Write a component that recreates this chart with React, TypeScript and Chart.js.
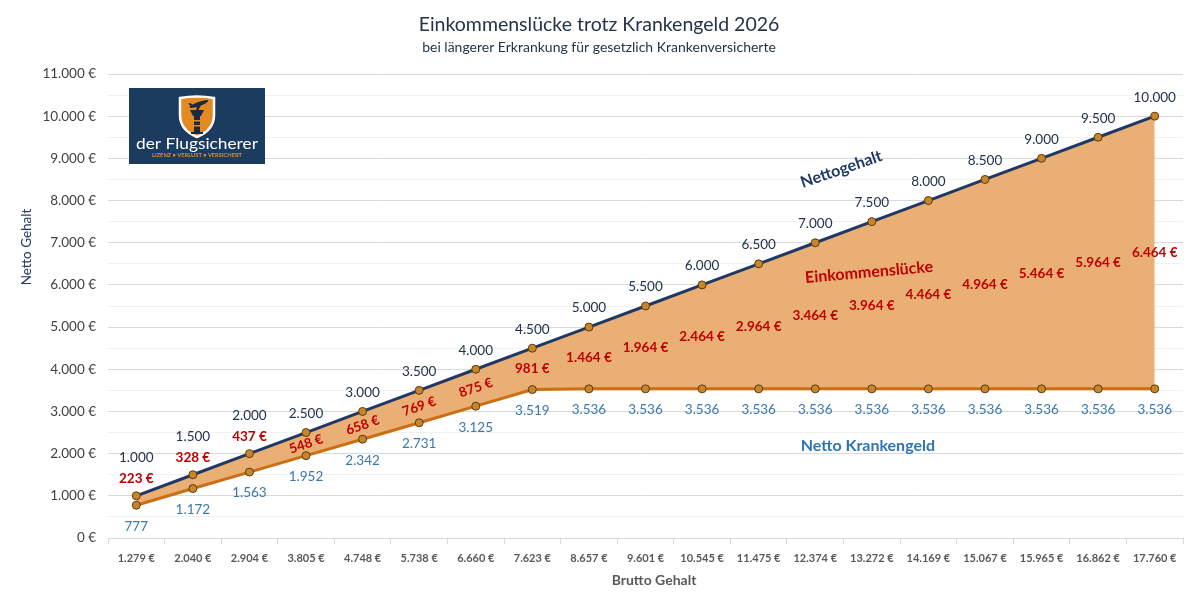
import React, { useEffect, useRef } from "react";
import { Chart, registerables } from "chart.js";

Chart.register(...registerables);

const bruttoLabels = [1279, 2040, 2904, 3805, 4748, 5738, 6660, 7623, 8657, 9601, 10545, 11475, 12374, 13272, 14169, 15067, 15965, 16862, 17760];
const nettoGehalt = [1000, 1500, 2000, 2500, 3000, 3500, 4000, 4500, 5000, 5500, 6000, 6500, 7000, 7500, 8000, 8500, 9000, 9500, 10000];
const nettoKrankengeld = [777, 1172, 1563, 1952, 2342, 2731, 3125, 3519, 3536, 3536, 3536, 3536, 3536, 3536, 3536, 3536, 3536, 3536, 3536];
const einkommensluecke = [223, 328, 437, 548, 658, 769, 875, 981, 1464, 1964, 2464, 2964, 3464, 3964, 4464, 4964, 5464, 5964, 6464];

const TITLE = "Einkommenslücke trotz Krankengeld 2026";
const SUBTITLE = "bei längerer Erkrankung für gesetzlich Krankenversicherte";
const FONT = "Lato, 'Open Sans', sans-serif";

const fmt = (n: number) => String(n).replace(/\B(?=(\d{3})+(?!\d))/g, ".");

const decorPlugin = {
  id: "decor",
  beforeDraw(chart: any) {
    const ctx = chart.ctx;
    ctx.save();
    ctx.fillStyle = "#243447";
    ctx.textAlign = "center";
    ctx.textBaseline = "middle";
    ctx.font = `19.5px ${FONT}`;
    ctx.fillText(TITLE, 599, 25);
    ctx.font = `14px ${FONT}`;
    ctx.fillText(SUBTITLE, 599, 47);
    ctx.save();
    ctx.translate(27, 247);
    ctx.rotate(-Math.PI / 2);
    ctx.fillStyle = "#1F3864";
    ctx.font = `13.5px ${FONT}`;
    ctx.fillText("Netto Gehalt", 0, 0);
    ctx.restore();
    ctx.fillStyle = "#595959";
    ctx.font = `bold 14px ${FONT}`;
    ctx.fillText("Brutto Gehalt", 654, 580);
    ctx.restore();
  },
  afterDraw(chart: any) {
    const ctx = chart.ctx;
    ctx.save();
    ctx.fillStyle = "#1B3B5F";
    ctx.fillRect(129, 88, 136, 76);
    ctx.beginPath();
    ctx.moveTo(180, 98);
    ctx.quadraticCurveTo(197, 95, 214, 98);
    ctx.lineTo(214, 115);
    ctx.quadraticCurveTo(214, 130, 197, 137);
    ctx.quadraticCurveTo(180, 130, 180, 115);
    ctx.closePath();
    ctx.fillStyle = "#E38B22";
    ctx.fill();
    ctx.lineWidth = 2.5;
    ctx.strokeStyle = "#FFFFFF";
    ctx.stroke();
    ctx.fillStyle = "#1B2B3F";
    ctx.save();
    ctx.translate(199, 104);
    ctx.rotate(-0.35);
    ctx.beginPath();
    ctx.ellipse(0, 0, 10, 2, 0, 0, Math.PI * 2);
    ctx.fill();
    ctx.beginPath();
    ctx.moveTo(-2, 0);
    ctx.lineTo(3, 0);
    ctx.lineTo(-4, 7);
    ctx.lineTo(-6, 7);
    ctx.closePath();
    ctx.fill();
    ctx.beginPath();
    ctx.moveTo(-8, 0);
    ctx.lineTo(-10, -4);
    ctx.lineTo(-8, -4);
    ctx.lineTo(-5, 0);
    ctx.closePath();
    ctx.fill();
    ctx.restore();
    ctx.beginPath();
    ctx.moveTo(190, 110);
    ctx.lineTo(204, 110);
    ctx.lineTo(201, 116);
    ctx.lineTo(193, 116);
    ctx.closePath();
    ctx.fill();
    ctx.fillRect(194, 116, 6, 17);
    ctx.fillRect(191, 132, 12, 2);
    ctx.fillStyle = "#E38B22";
    ctx.fillRect(194, 120, 6, 1.5);
    ctx.fillRect(194, 125, 6, 1.5);
    ctx.textAlign = "center";
    ctx.textBaseline = "middle";
    ctx.fillStyle = "#FFFFFF";
    ctx.font = `15px ${FONT}`;
    let w = ctx.measureText("der Flugsicherer").width;
    ctx.save();
    ctx.translate(197, 144);
    ctx.scale(122 / w, 1);
    ctx.fillText("der Flugsicherer", 0, 0);
    ctx.restore();
    ctx.fillStyle = "#E38B22";
    ctx.font = `bold 6px ${FONT}`;
    w = ctx.measureText("LIZENZ • VERLUST • VERSICHERT").width;
    ctx.save();
    ctx.translate(197, 155);
    ctx.scale(90 / w, 1);
    ctx.fillText("LIZENZ • VERLUST • VERSICHERT", 0, 0);
    ctx.restore();
    ctx.restore();
  },
  afterDatasetsDraw(chart: any) {
    const ctx = chart.ctx;
    const xs = chart.scales.x;
    const ys = chart.scales.y;
    ctx.save();
    ctx.textAlign = "center";
    ctx.textBaseline = "middle";
    for (let i = 0; i < nettoGehalt.length; i++) {
      const px = xs.getPixelForValue(i);
      const pn = ys.getPixelForValue(nettoGehalt[i]);
      const pk = ys.getPixelForValue(nettoKrankengeld[i]);
      ctx.font = `13.5px ${FONT}`;
      ctx.fillStyle = "#22324A";
      ctx.fillText(fmt(nettoGehalt[i]), px, pn - (i < 3 ? 38 : 19));
      ctx.fillStyle = "#3A78AE";
      ctx.fillText(fmt(nettoKrankengeld[i]), px, pk + 21);
      ctx.font = `bold 13.5px ${FONT}`;
      ctx.fillStyle = "#C00000";
      const t = fmt(einkommensluecke[i]) + " €";
      if (i < 3) {
        ctx.fillText(t, px, pn - 17);
      } else if (i < 7) {
        ctx.save();
        ctx.translate(px, (pn + pk) / 2);
        ctx.rotate((-19 * Math.PI) / 180);
        ctx.fillText(t, 0, 0);
        ctx.restore();
      } else {
        ctx.fillText(t, px, (pn + pk) / 2);
      }
    }
    ctx.font = `bold 16px ${FONT}`;
    ctx.save();
    ctx.translate(xs.getPixelForValue(12.46), ys.getPixelForValue(8740));
    ctx.rotate((-19 * Math.PI) / 180);
    ctx.fillStyle = "#1F3864";
    ctx.fillText("Nettogehalt", 0, 0);
    ctx.restore();
    ctx.save();
    ctx.translate(xs.getPixelForValue(12.95), ys.getPixelForValue(6300));
    ctx.rotate((-5 * Math.PI) / 180);
    ctx.fillStyle = "#C00000";
    ctx.fillText("Einkommenslücke", 0, 0);
    ctx.restore();
    ctx.fillStyle = "#2E75B6";
    ctx.fillText("Netto Krankengeld", xs.getPixelForValue(12.93), ys.getPixelForValue(2180));
    ctx.restore();
  },
};

export default function App() {
  const ref = useRef<HTMLCanvasElement | null>(null);
  useEffect(() => {
    if (!ref.current) return;
    const chart = new Chart(ref.current, {
      type: "line",
      data: {
        labels: bruttoLabels.map((v) => fmt(v) + " €"),
        datasets: [
          {
            label: "Nettogehalt",
            data: nettoGehalt,
            borderColor: "#1F3864",
            borderWidth: 3,
            backgroundColor: "#EAAF74",
            fill: "+1",
            pointRadius: 4,
            pointBackgroundColor: "#C8862A",
            pointBorderColor: "#5B3A10",
            pointBorderWidth: 1,
            tension: 0,
          },
          {
            label: "Netto Krankengeld",
            data: nettoKrankengeld,
            borderColor: "#CC6E12",
            borderWidth: 3,
            backgroundColor: "#EAAF74",
            fill: false,
            pointRadius: 4,
            pointBackgroundColor: "#C8862A",
            pointBorderColor: "#5B3A10",
            pointBorderWidth: 1,
            tension: 0,
          },
        ],
      },
      options: {
        responsive: false,
        animation: false,
        devicePixelRatio: 1,
        layout: { padding: { top: 74, right: 17, left: 0, bottom: 0 } },
        plugins: {
          legend: { display: false },
          title: { display: false },
          tooltip: { enabled: false },
          filler: { drawTime: "beforeDatasetsDraw" },
        } as any,
        scales: {
          x: {
            type: "category",
            offset: true,
            grid: {
              offset: true,
              drawOnChartArea: false,
              drawTicks: true,
              tickLength: 6,
              color: "#D9D9D9",
            },
            border: { display: true, color: "#D9D9D9" },
            ticks: {
              color: "#595959",
              font: { family: FONT, size: 11, weight: "bold" },
              padding: 8,
              maxRotation: 0,
              autoSkip: false,
            },
            afterFit: (scale: any) => {
              scale.height = 70;
            },
          },
          y: {
            min: 0,
            max: 11000,
            grid: {
              drawTicks: false,
              color: (c: any) => (c.tick && c.tick.value % 1000 === 0 ? "#D9D9D9" : "#F1F1F1"),
              lineWidth: 1,
            },
            border: { display: false },
            ticks: {
              stepSize: 250,
              maxTicksLimit: 100,
              padding: 12,
              color: "#404040",
              font: { family: FONT, size: 13.5 },
              callback: (v: any) => (Number(v) % 1000 === 0 ? fmt(Number(v)) + " €" : ""),
            },
            afterFit: (scale: any) => {
              scale.width = 108;
            },
          },
        },
      } as any,
      plugins: [decorPlugin],
    });
    return () => chart.destroy();
  }, []);
  return (
    <div style={{ position: "absolute", left: 0, top: 0, width: 1200, height: 608, background: "#fff" }}>
      <canvas ref={ref} width={1200} height={608} style={{ display: "block" }} />
    </div>
  );
}
